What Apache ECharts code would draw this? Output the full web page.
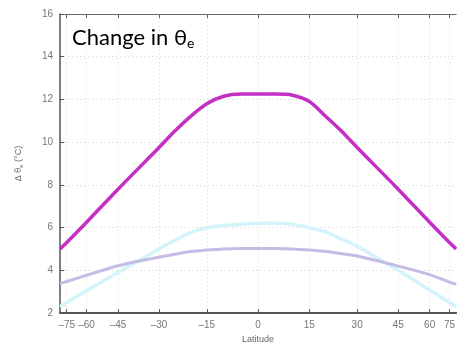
<!DOCTYPE html>
<html>
<head>
<meta charset="utf-8">
<script src="https://cdn.jsdelivr.net/npm/echarts@6/dist/echarts.min.js"></script>
<style>html,body{margin:0;padding:0;background:#fff;}#c{width:458px;height:349px;}</style>
</head>
<body>
<div id="c"></div>
<script>
const latitudes = [-90,-75,-60,-45,-30,-25,-20,-15,-10,-5,0,5,10,15,20,25,30,45,60,75,90];
const magentaValues = [5.0,5.3,6.25,7.8,9.75,10.5,11.2,11.8,12.15,12.25,12.25,12.25,12.2,11.9,11.2,10.5,9.75,7.8,6.25,5.3,5.0];
const purpleValues = [3.38,3.48,3.77,4.22,4.62,4.75,4.88,4.95,5.0,5.02,5.02,5.02,5.0,4.95,4.88,4.78,4.67,4.2,3.8,3.45,3.35];
const cyanValues = [2.3,2.5,3.05,3.9,5.0,5.4,5.75,6.0,6.1,6.15,6.2,6.2,6.15,6.0,5.8,5.45,5.13,4.0,3.08,2.5,2.3];
const xTickLabels = [-75,-60,-45,-30,-15,0,15,30,45,60,75];
const yTicks = [2,4,6,8,10,12,14,16];

const toS = d => Math.sin(d * Math.PI / 180);
const fromS = s => Math.round(Math.asin(Math.max(-1, Math.min(1, s))) * 180 / Math.PI);
const pair = vals => latitudes.map((lat, i) => [toS(lat), vals[i]]);
const xCustom = xTickLabels.map(toS);
const fmtX = v => { const d = fromS(v); return d < 0 ? '\u2013' + Math.abs(d) : String(d); };

const chart = echarts.init(document.getElementById('c'), null, {renderer: 'canvas'});
const gridLine = {show: true, lineStyle: {color: '#d6d6d6', type: [1, 3], width: 1}};
chart.setOption({
  animation: false,
  backgroundColor: '#fff',
  title: {
    text: '{a|Change in \u03b8}{s|e}',
    left: 67, top: 21,
    textStyle: {
      fontWeight: 'normal',
      rich: {
        a: {fontFamily: 'Lato', fontSize: 22, fontWeight: 'normal', color: '#000'},
        s: {fontFamily: 'Lato', fontSize: 14, fontWeight: 'normal', color: '#000', verticalAlign: 'bottom', padding: [10, 0, 0, 0]}
      }
    }
  },
  grid: {left: 60, top: 14, width: 403, height: 304},
  xAxis: [{
    type: 'value', min: -1, max: 1, position: 'bottom',
    name: 'Latitude', nameLocation: 'middle', nameGap: 20,
    nameTextStyle: {fontFamily: 'Liberation Sans', fontSize: 9, color: '#666'},
    axisLine: {show: true, onZero: false, lineStyle: {color: '#555', width: 2}},
    axisTick: {show: true, inside: true, length: 4, customValues: xCustom, lineStyle: {color: '#555'}},
    axisLabel: {customValues: xCustom, formatter: fmtX, fontFamily: 'Liberation Sans', fontSize: 10, color: '#777', margin: 7},
    splitLine: gridLine
  }, {
    type: 'value', min: -1, max: 1, position: 'top',
    axisLine: {show: true, onZero: false, lineStyle: {color: '#666', width: 1}},
    axisTick: {show: true, inside: true, length: 4, customValues: xCustom, lineStyle: {color: '#666'}},
    axisLabel: {show: false},
    splitLine: {show: false}
  }],
  yAxis: {
    type: 'value', min: 2, max: 16, interval: 2,
    name: '{a|\u0394 \u03b8}{s|e}{a| (\u00b0C)}', nameLocation: 'middle', nameGap: 36, nameRotate: 90,
    nameTextStyle: {rich: {
      a: {fontFamily: 'Liberation Sans', fontSize: 9, color: '#666'},
      s: {fontFamily: 'Liberation Sans', fontSize: 6, color: '#666', verticalAlign: 'bottom', padding: [5, 0, 0, 0]}
    }},
    axisLine: {show: true, onZero: false, lineStyle: {color: '#555', width: 1.5}},
    axisTick: {show: true, inside: true, length: 4, lineStyle: {color: '#555'}},
    axisLabel: {fontFamily: 'Liberation Sans', fontSize: 10, color: '#777', margin: 7},
    splitLine: gridLine
  },
  series: [{
    type: 'line', data: pair(cyanValues), smooth: 0.3, symbol: 'none',
    lineStyle: {color: '#d2f4fa', width: 3.5}
  }, {
    type: 'line', data: pair(purpleValues), smooth: 0.3, symbol: 'none',
    lineStyle: {color: '#c4bce4', width: 3}
  }, {
    type: 'line', data: pair(magentaValues), smooth: 0.3, symbol: 'none',
    lineStyle: {color: '#c430c4', width: 3.5}
  }]
});
</script>
</body>
</html>
